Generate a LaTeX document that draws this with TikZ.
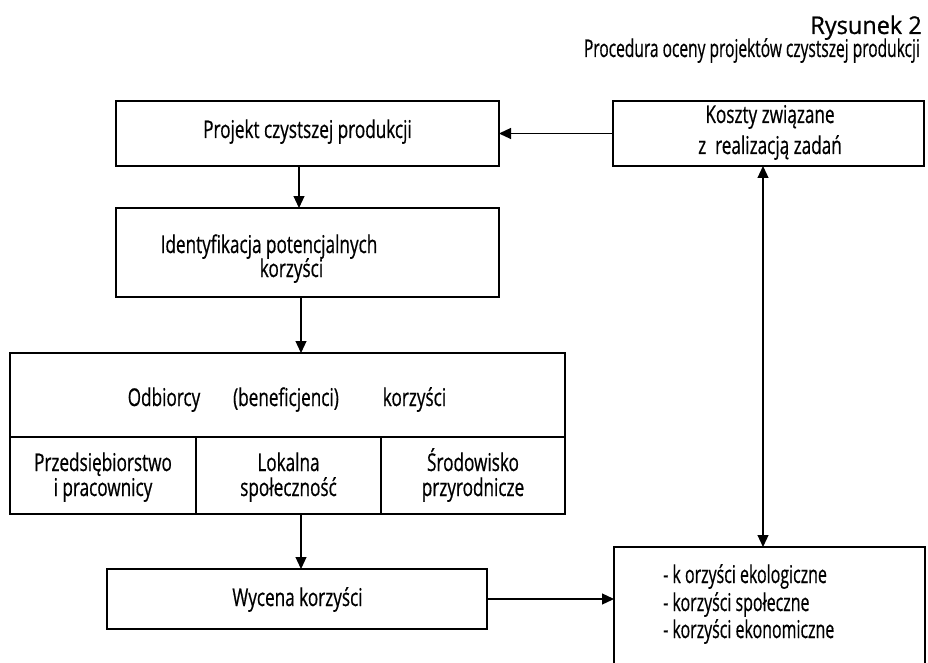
\documentclass[tikz,border=0pt]{standalone}
\usepackage{graphicx}
\usepackage{fontspec}
\setmainfont[FakeStretch=0.70,FakeBold=0.6]{Open Sans}
\usetikzlibrary{arrows.meta}
\begin{document}
\begin{tikzpicture}[x=1pt,y=-1pt,
  box/.style={draw=black,line width=1.2pt,inner sep=0pt,outer sep=0pt,rectangle},
  lbl/.style={inner sep=0pt,anchor=base,font=\fontsize{24.5}{27}\selectfont},
  ttl/.style={lbl,anchor=base east},
  lst/.style={lbl,anchor=base west},
  arr/.style={line width=1.2pt,-{Triangle[length=12pt,width=11pt]}},
  darr/.style={line width=1.2pt,{Triangle[length=12pt,width=11pt]}-{Triangle[length=12pt,width=11pt]}}]
\fill[white] (0,0) rectangle (928,663);
\clip (0,0) rectangle (928,663);
% titles
\node[ttl] (rys) at (922,34) {\scalebox{1.37}[1]{Rysunek 2}};
\node[ttl] (proc) at (920,57) {\scalebox{0.906}[1]{Procedura oceny projektów czystszej produkcji}};
% boxes
\node[box,minimum width=383pt,minimum height=65pt] (projekt) at (307.5,133.5) {};
\node[box,minimum width=383pt,minimum height=89pt] (ident) at (307.5,252.5) {};
\node[box,minimum width=311pt,minimum height=65pt] (koszty) at (768.5,133.5) {};
\node[box,minimum width=555pt,minimum height=84pt] (odb) at (287.5,395) {};
\node[box,minimum width=186pt,minimum height=77pt] (c1) at (103,475.5) {};
\node[box,minimum width=185pt,minimum height=77pt] (c2) at (288.5,475.5) {};
\node[box,minimum width=184pt,minimum height=77pt] (c3) at (473,475.5) {};
\node[box,minimum width=380pt,minimum height=60pt] (wycena) at (297,599) {};
\node[box,minimum width=311pt,minimum height=173pt] (korz) at (769.5,633.5) {};
% texts
\node[lbl] (tproj) at (307.5,138) {Projekt czystszej produkcji};
\node[lbl] (tid1) at (269,253) {Identyfikacja potencjalnych};
\node[lbl] (tid2) at (291.5,277) {korzyści};
\node[lbl] (tk1) at (770,123) {Koszty związane};
\node[lbl] (tk2) at (770,154) {z~ realizacją zadań};
\node[lbl] (to1) at (164,406) {Odbiorcy};
\node[lbl] (to2) at (286,406) {(beneficjenci)};
\node[lbl] (to3) at (414.5,406) {korzyści};
\node[lbl] (tc1a) at (103,471) {Przedsiębiorstwo};
\node[lbl] (tc1b) at (103,496) {i pracownicy};
\node[lbl] (tc2a) at (288.5,471) {Lokalna};
\node[lbl] (tc2b) at (288.5,496) {społeczność};
\node[lbl] (tc3a) at (473,471) {Środowisko};
\node[lbl] (tc3b) at (473,496) {przyrodnicze};
\node[lbl] (tw) at (297.5,606) {Wycena korzyści};
\node[lst] (tl1) at (663,583) {\scalebox{0.93}[1]{- k orzyści ekologiczne}};
\node[lst] (tl2) at (663,611) {\scalebox{0.93}[1]{- korzyści społeczne}};
\node[lst] (tl3) at (663,638) {\scalebox{0.93}[1]{- korzyści ekonomiczne}};
% connector x positions
\coordinate (xa) at (299,0);
\coordinate (xb) at (301,0);
\coordinate (xc) at (763,0);
% connectors
\draw[arr] (koszty.west) -- (projekt.east);
\draw[arr] (projekt.south -| xa) -- (ident.north -| xa);
\draw[arr] (ident.south -| xb) -- (odb.north -| xb);
\draw[arr] (c2.south -| xb) -- (wycena.north -| xb);
\draw[arr] (wycena.east) -- (korz.west |- wycena.east);
\draw[darr] (koszty.south -| xc) -- (korz.north -| xc);
\end{tikzpicture}
\end{document}
